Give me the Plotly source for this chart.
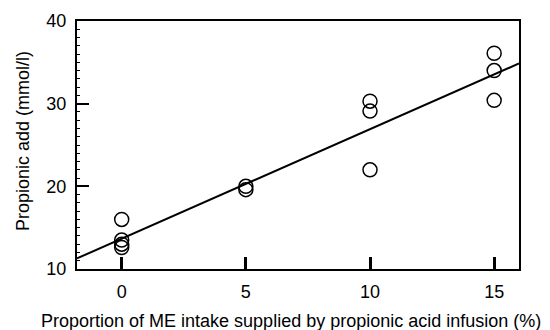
import numpy as np
import plotly.graph_objects as go

# Data
x_vals = [0, 0, 0, 0, 5, 5, 10, 10, 10, 15, 15, 15]
y_vals = [16.0, 13.5, 13.0, 12.6, 20.0, 19.6, 30.3, 29.1, 22.0, 36.1, 34.0, 30.4]
x_ticks = [0, 5, 10, 15]
y_ticks = [10, 20, 30, 40]
x_range = [-1.8, 16.0]
y_range = [10, 40]
x_title = "Proportion of ME intake supplied by propionic acid infusion (%)"
y_title = "Propionic add (mmol/l)"

slope, intercept = np.polyfit(x_vals, y_vals, 1)
line_x = np.array(x_range)
line_y = intercept + slope * line_x

fig = go.Figure()
fig.add_trace(go.Scatter(x=line_x, y=line_y, mode="lines",
                         line=dict(color="black", width=2), showlegend=False,
                         cliponaxis=True))
fig.add_trace(go.Scatter(x=x_vals, y=y_vals, mode="markers",
                         marker=dict(symbol="circle-open", size=14,
                                     color="black", line=dict(width=1.5)),
                         showlegend=False, cliponaxis=False))

font_family = "Liberation Sans, Arial, sans-serif"
# The page body adds an 8px offset, so margins are reduced by 8 on the left/top
fig.update_layout(
    width=550, height=330,
    margin=dict(l=69, r=39, t=13, b=69, autoexpand=False),
    plot_bgcolor="white", paper_bgcolor="white",
    font=dict(family=font_family, color="black"),
    xaxis=dict(range=x_range, tickvals=x_ticks, ticks="inside", ticklen=12,
               tickwidth=3, tickcolor="black", showline=True, linewidth=2,
               linecolor="black", mirror=True, showgrid=False, zeroline=False,
               tickfont=dict(size=18), ticklabelstandoff=5, automargin=False),
    yaxis=dict(range=y_range, tickvals=y_ticks, ticks="inside", ticklen=12,
               tickwidth=2, tickcolor="black", showline=True, linewidth=2,
               linecolor="black", mirror=True, showgrid=False, zeroline=False,
               tickfont=dict(size=18), ticklabelstandoff=5, automargin=False,
               minor=dict(ticks="inside", ticklen=3, tickwidth=1, dtick=1,
                          tickcolor="black", showgrid=False)),
    annotations=[
        dict(text=x_title, xref="paper", yref="paper",
             x=0.484, y=-0.21, xanchor="center", yanchor="middle",
             showarrow=False, font=dict(size=18)),
        dict(text=y_title, xref="paper", yref="paper", textangle=-90,
             x=-0.122, y=0.516, xanchor="center", yanchor="middle",
             showarrow=False, font=dict(size=18)),
    ],
)

fig.write_html("out.html")
